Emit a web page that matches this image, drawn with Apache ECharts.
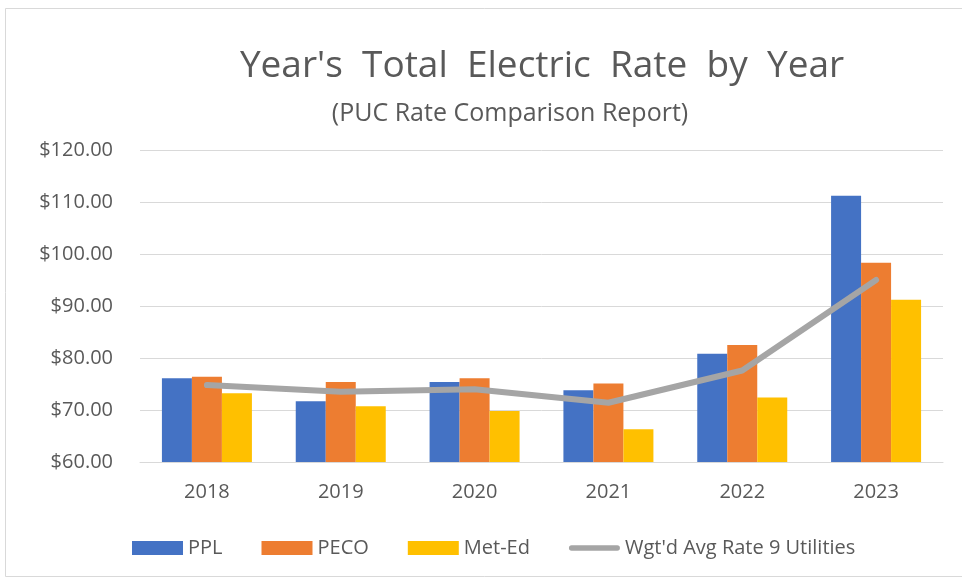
<!DOCTYPE html>
<html>
<head>
<meta charset="utf-8">
<script src="https://cdn.jsdelivr.net/npm/echarts@6/dist/echarts.min.js"></script>
<style>
  html, body { margin: 0; padding: 0; background: #fff; }
  #main { width: 962px; height: 581px; }
</style>
</head>
<body>
<div id="main"></div>
<script>
// values
const years = ['2018', '2019', '2020', '2021', '2022', '2023'];
const ppl = [76.1, 71.7, 75.4, 73.8, 80.8, 111.2];
const peco = [76.4, 75.4, 76.1, 75.1, 82.5, 98.3];
const metEd = [73.2, 70.7, 69.8, 66.3, 72.4, 91.2];
const wgtAvg = [74.8, 73.5, 74.0, 71.4, 77.6, 95.0];

const textColor = '#595959';
const fontFam = '"Open Sans", "Liberation Sans", sans-serif';

let chart = echarts.init(document.getElementById('main'));
let option = {
  backgroundColor: '#fff',
  animation: false,
  textStyle: { fontFamily: fontFam },
  graphic: [{
    type: 'rect',
    shape: { x: 5.5, y: 8.5, width: 960, height: 568 },
    style: { fill: 'none', stroke: '#d9d9d9', lineWidth: 1 },
    silent: true
  }],
  title: [{
    text: "Year's  Total  Electric  Rate  by  Year",
    left: 537, top: 43, textAlign: 'center',
    textStyle: { fontSize: 37, fontWeight: 'normal', color: textColor, fontFamily: fontFam }
  }, {
    text: '(PUC Rate Comparison Report)',
    left: 505, top: 96, textAlign: 'center',
    textStyle: { fontSize: 25, fontWeight: 'normal', color: textColor, fontFamily: fontFam }
  }],
  legend: {
    top: 533,
    left: 127,
    itemWidth: 51,
    itemHeight: 14,
    itemGap: 39,
    textStyle: { fontSize: 20, color: textColor },
    data: [
      { name: 'PPL', icon: 'rect' },
      { name: 'PECO', icon: 'rect' },
      { name: 'Met-Ed', icon: 'rect' },
      { name: "Wgt'd Avg Rate 9 Utilities", icon: 'path://M3,0h50a3,3 0 0 1 0,6h-50a3,3 0 0 1 0,-6z',
        itemStyle: { color: '#A5A5A5' } }
    ]
  },
  grid: { left: 140, right: 19, top: 150, bottom: 119 },
  xAxis: {
    type: 'category',
    data: years,
    axisLine: { lineStyle: { color: '#d9d9d9', width: 1 } },
    axisTick: { show: false },
    axisLabel: { fontSize: 20, color: textColor, margin: 20 }
  },
  yAxis: {
    type: 'value',
    min: 60, max: 120, interval: 10,
    axisLine: { show: false },
    axisTick: { show: false },
    splitLine: { lineStyle: { color: '#d9d9d9', width: 1 } },
    axisLabel: {
      fontSize: 20, color: textColor, margin: 27,
      formatter: v => '$' + v.toFixed(2)
    }
  },
  series: [
    { name: 'PPL', type: 'bar', data: ppl, barWidth: 30, barGap: '0%',
      itemStyle: { color: '#4472C4' } },
    { name: 'PECO', type: 'bar', data: peco, barWidth: 30, barGap: '0%',
      itemStyle: { color: '#ED7D31' } },
    { name: 'Met-Ed', type: 'bar', data: metEd, barWidth: 30, barGap: '0%',
      itemStyle: { color: '#FFC000' } },
    { name: "Wgt'd Avg Rate 9 Utilities", type: 'line', data: wgtAvg,
      symbol: 'none',
      lineStyle: { color: '#A5A5A5', width: 6, cap: 'round', join: 'round' },
      itemStyle: { color: '#A5A5A5' } }
  ]
};
chart.setOption(option);
window.addEventListener('resize', function () { chart.resize(); });
</script>
</body>
</html>
